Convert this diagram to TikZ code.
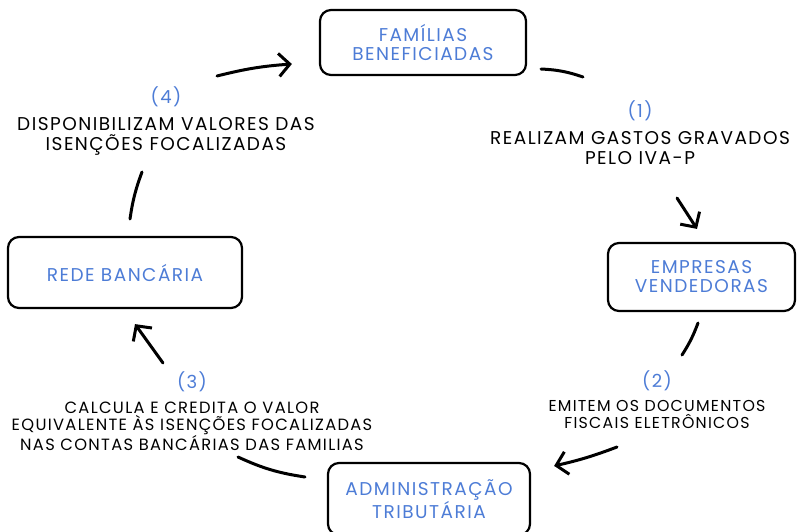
\documentclass[tikz,border=0pt]{standalone}
\usepackage{fontspec}
\setmainfont{Poppins}[LetterSpace=8]
\usetikzlibrary{arrows.meta,positioning}
\definecolor{flowblue}{RGB}{77,124,214}

\begin{document}
\begin{tikzpicture}[
    x=1pt,y=1pt,
    box/.style={draw,line width=2.2pt,rounded corners=11pt,
                align=center,text=flowblue,inner sep=0pt,
                font=\fontsize{18.5}{19}\selectfont},
    num/.style={text=flowblue,inner sep=0pt,
                font=\fontsize{18}{18}\selectfont},
    desc/.style={align=center,inner sep=0pt,
                 font=\fontsize{18.5}{20}\selectfont},
    seg/.style={line width=3pt,line cap=round},
    arr/.style={seg,-{Straight Barb[length=11pt,width=23pt]}},
  ]
  \useasboundingbox (0,0) rectangle (797,-531);

  %% Actors
  \node[box,minimum width=206pt,minimum height=65pt]
    (fam) at (423,-42.5) {FAMÍLIAS\\BENEFICIADAS};
  \node[box,minimum width=187pt,minimum height=68pt]
    (emp) at (701.5,-277) {EMPRESAS\\VENDEDORAS};
  \node[box,minimum width=202pt,minimum height=72pt]
    (adm) at (429,-499) {ADMINISTRAÇÃO\\TRIBUTÁRIA};
  \node[box,minimum width=234pt,minimum height=71pt]
    (rede) at (125,-272.5) {REDE BANCÁRIA};

  %% Step labels
  \node[num] (num1) at (640,-111) {(1)};
  \node[desc] (desc1) [below=10pt of num1]
    {REALIZAM GASTOS GRAVADOS\\PELO IVA-P};
  \node[num] (num2) at (657,-381) {(2)};
  \node[desc,font=\fontsize{15.8}{17}\selectfont] (desc2) [below=9pt of num2]
    {EMITEM OS DOCUMENTOS\\FISCAIS ELETRÔNICOS};
  \node[num] (num3) at (192,-382) {(3)};
  \node[desc,font=\fontsize{16.3}{16.3}\selectfont] (desc3) [below=10pt of num3]
    {CALCULA E CREDITA O VALOR\\EQUIVALENTE ÀS ISENÇÕES FOCALIZADAS\\NAS CONTAS BANCÁRIAS DAS FAMILIAS};
  \node[num] (num4) at (166,-97) {(4)};
  \node[desc] (desc4) [below=10pt of num4]
    {DISPONIBILIZAM VALORES DAS\\ISENÇÕES FOCALIZADAS};

  %% Loose ends of the cycle
  \coordinate (s1a) at (541,-69);  \coordinate (s1b) at (583,-77);
  \coordinate (s2a) at (698,-323); \coordinate (s2b) at (682,-355);
  \coordinate (s3a) at (305,-477); \coordinate (s3b) at (238,-457);
  \coordinate (s4a) at (130,-219); \coordinate (s4b) at (142,-172);
  \coordinate (a1) at (677,-198);
  \coordinate (a2) at (617,-447);
  \coordinate (a3) at (163,-363);
  \coordinate (a4) at (217,-76);

  %% (1) familias -> empresas
  \draw[seg] (s1a) to[bend left=8] (s1b);
  \draw[arr] (a1) -- ([yshift=13pt]emp.north -| 697,0);

  %% (2) empresas -> administracao
  \draw[seg] (s2a) to[bend left=6] (s2b);
  \draw[arr] (a2) to[bend left=4] ([xshift=23pt,yshift=-4pt]adm.north east);

  %% (3) administracao -> rede
  \draw[seg] (s3a) to[bend left=8] (s3b);
  \draw[arr] (a3) -- ([yshift=-15pt]rede.south -| 135,0);

  %% (4) rede -> familias
  \draw[seg] (s4a) to[bend left=6] (s4b);
  \draw[arr] (a4) to[bend left=5] ([xshift=-27pt,yshift=-21.5pt]fam.west);
\end{tikzpicture}
\end{document}
